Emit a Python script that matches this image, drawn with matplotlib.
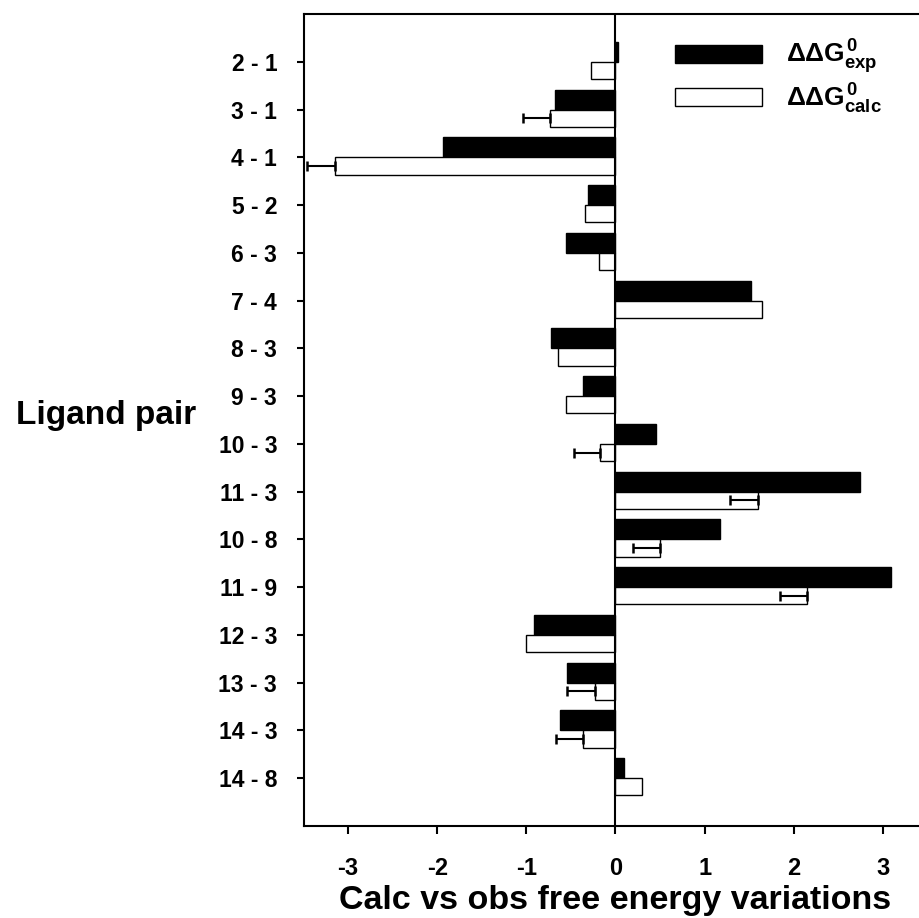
import matplotlib
matplotlib.use('Agg')
import matplotlib.pyplot as plt
import numpy as np

plt.rcParams['font.family'] = 'Liberation Sans'
plt.rcParams['font.weight'] = 'bold'
plt.rcParams['axes.labelweight'] = 'bold'
plt.rcParams['axes.unicode_minus'] = False
plt.rcParams['mathtext.fontset'] = 'custom'
plt.rcParams['mathtext.rm'] = 'Liberation Sans:bold'
plt.rcParams['mathtext.it'] = 'Liberation Sans:bold'
plt.rcParams['mathtext.bf'] = 'Liberation Sans:bold'

pairs = ['2 - 1', '3 - 1', '4 - 1', '5 - 2', '6 - 3', '7 - 4', '8 - 3', '9 - 3',
         '10 - 3', '11 - 3', '10 - 8', '11 - 9', '12 - 3', '13 - 3', '14 - 3', '14 - 8']
dg_exp = [0.03, -0.68, -1.94, -0.31, -0.55, 1.52, -0.72, -0.36,
          0.45, 2.74, 1.17, 3.09, -0.92, -0.54, -0.62, 0.10]
dg_calc = [-0.28, -0.74, -3.15, -0.34, -0.19, 1.64, -0.65, -0.56,
           -0.17, 1.60, 0.50, 2.15, -1.00, -0.23, -0.36, 0.30]
# only the lower (negative-side) error bar is drawn
calc_err = [0, 0.30, 0.31, 0, 0, 0, 0, 0,
            0.30, 0.32, 0.30, 0.30, 0, 0.31, 0.31, 0]

y = np.arange(len(pairs))

fig = plt.figure(figsize=(9.2, 9.18), dpi=100)
ax = fig.add_axes([0.330, 0.1002, 0.678, 0.8845])

ax.barh(y - 0.21, dg_exp, height=0.42, color='black', edgecolor='black',
        linewidth=1, label=r'$\Delta\Delta G^{0}_{exp}$', zorder=2)
ax.barh(y + 0.18, dg_calc, height=0.36, color='white', edgecolor='black',
        linewidth=1, label=r'$\Delta\Delta G^{0}_{calc}$', zorder=2)
err = np.array(calc_err)
mask = err > 0
ax.errorbar(np.array(dg_calc)[mask], (y + 0.18)[mask],
            xerr=[err[mask], np.zeros(mask.sum())], fmt='none',
            ecolor='black', elinewidth=1.5, capsize=3.5, capthick=1.8, zorder=3)
ax.axvline(0, color='black', linewidth=1.5, zorder=4)

ax.set_xlim(-3.5, 3.5)
ax.set_ylim(16, -1)
ax.set_yticks(y)
ax.set_yticklabels(pairs)
ax.set_xticks([-3, -2, -1, 0, 1, 2, 3])
ax.tick_params(axis='y', length=5, width=1.5, labelsize=16.5, pad=14)
ax.tick_params(axis='x', length=6, width=1.5, labelsize=17, pad=16)
for sp in ax.spines.values():
    sp.set_linewidth(1.5)

ax.set_xlabel('Calc vs obs free energy variations', fontsize=24.5, labelpad=4)
ax.set_ylabel('Ligand pair', fontsize=24, rotation=0, ha='left', va='center')
ax.yaxis.set_label_coords(-0.461, 0.505)

ax.legend(loc='upper left', bbox_to_anchor=(0.558, 1.0), frameon=False,
          fontsize=19, handlelength=3.3, handleheight=0.65, labelspacing=0.2,
          handletextpad=0.9)

fig.savefig('out.png', dpi=100)
